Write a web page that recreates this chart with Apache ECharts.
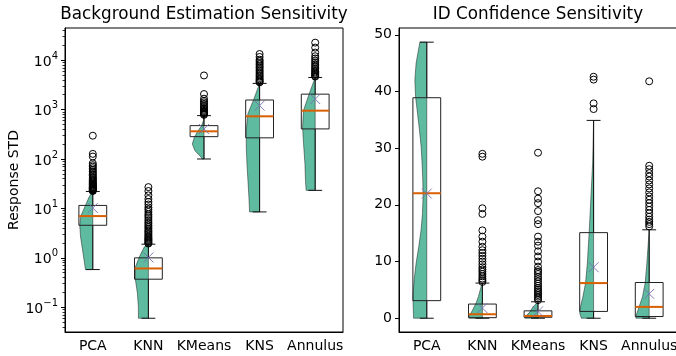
<!DOCTYPE html>
<html><head><meta charset="utf-8">
<script src="https://cdn.jsdelivr.net/npm/echarts@6/dist/echarts.min.js"></script>
<style>html,body{margin:0;padding:0;background:#fff}#c{width:676px;height:356px}</style>
</head><body><div id="c"></div>
<script>
const categories = ['PCA', 'KNN', 'KMeans', 'KNS', 'Annulus'];

// ---- Background Estimation Sensitivity (log scale) ----
const bgLow    = [0.58, 0.06, 100, 8.5, 23.2];
const bgQ1     = [4.56, 0.37, 283, 268, 406];
const bgMedian = [7.0, 0.61, 363, 730, 950];
const bgQ3     = [11.5, 1.0, 473, 1560, 2050];
const bgHigh   = [22, 1.89, 754, 3380, 4460];
const bgMean   = [10.2, 1.02, 405, 1200, 1630];
const bgOutliers = [
  [296, 127, 112, 82, 75, 70, 65, 60, 56, 52, 49, 46, 43, 41, 39, 37, 35, 33.5, 32, 31, 30, 29, 28, 27, 26.5, 26, 25.5, 25, 24.5, 24, 23.5, 23, 22.5],
  [27, 22.5, 18.4, 15.5, 13.5, 12, 10.5, 9.5, 8.5, 7.6, 7, 6.4, 5.8, 5.3, 4.9, 4.5, 4.2, 3.9, 3.6, 3.4, 3.2, 3.0, 2.8, 2.65, 2.5, 2.4, 2.3, 2.2, 2.1, 2.0, 1.95],
  [4900, 2060, 1660, 1500, 1400, 1300, 1200, 1120, 1050, 990, 940, 900, 870, 840, 810, 780],
  [13300, 11600, 10200, 9500, 8800, 8200, 7600, 7100, 6600, 6100, 5700, 5300, 4950, 4650, 4350, 4100, 3900, 3700, 3550],
  [22600, 17900, 14200, 12000, 10800, 9800, 9000, 8300, 7700, 7200, 6700, 6300, 5900, 5600, 5300, 5050, 4800, 4650]
];
// half-violin profiles: [value, relative half-width]
const bgViolins = [
  [[0.58,0.53],[1.23,0.70],[2.65,0.88],[4.56,0.94],[7.0,0.86],[11.5,0.53],[17,0.27],[22,0]],
  [[0.06,0.72],[0.10,0.72],[0.19,0.79],[0.355,0.93],[0.66,0.93],[1.05,0.65],[1.67,0.29],[1.89,0]],
  [[100,0.12],[110,0.22],[147,0.65],[200,0.84],[274,0.70],[363,0.45],[473,0.17],[600,0.04],[754,0]],
  [[8.5,0.72],[17,0.77],[37,0.84],[81,0.91],[174,0.96],[380,0.96],[830,0.84],[1580,0.43],[3380,0]],
  [[23.2,0.65],[37,0.70],[81,0.74],[208,0.84],[445,0.91],[960,0.84],[2100,0.43],[4460,0]]
];
const bgMajorTicks = [-1, 0, 1, 2, 3, 4];

// ---- ID Confidence Sensitivity (linear) ----
const idLow    = [0, 0, 0, 0, 0];
const idQ1     = [3.1, 0.1, 0.17, 1.2, 0.3];
const idMedian = [22.05, 0.7, 0.4, 6.2, 2.0];
const idQ3     = [38.9, 2.5, 1.3, 15.1, 6.3];
const idHigh   = [48.7, 6.2, 2.9, 34.9, 15.6];
const idMean   = [22.0, 1.8, 1.2, 9.0, 4.3];
const idOutliers = [
  [],
  [29.0, 28.5, 19.4, 18.4, 15.5, 14.4, 13.5, 12.6, 12.0, 11.5, 11.0, 10.5, 10.0, 9.5, 9.0, 8.6, 8.2, 7.8, 7.4, 7.0, 6.7, 6.4],
  [29.2, 22.4, 21.1, 20.3, 18.9, 17.3, 16.6, 14.4, 13.5, 12.8, 11.8, 10.9, 10.0, 9.1, 8.5, 8.2, 7.8, 7.3, 6.9, 6.5, 6.1, 5.7, 5.3, 5.0, 4.7, 4.4, 4.1, 3.8, 3.5, 3.2],
  [42.6, 42.1, 37.9, 36.9],
  [41.8, 26.9, 26.3, 25.6, 25.0, 24.3, 23.6, 22.9, 22.2, 21.5, 20.9, 20.3, 19.7, 19.1, 18.5, 17.9, 17.4, 17.0, 16.6, 16.2]
];
const idViolins = [
  [[0,0.95],[2.05,0.98],[3.8,1.0],[6.8,0.91],[9.7,0.77],[12.6,0.58],[15.6,0.41],[18.5,0.31],[21.5,0.27],[24.4,0.29],[27.4,0.34],[30.3,0.41],[33.2,0.53],[36.2,0.67],[39.1,0.81],[42,0.86],[45,0.77],[48.7,0.5]],
  [[0,0.95],[0.3,0.95],[2.05,0.58],[2.7,0.45],[3.8,0.29],[5.6,0.09],[6.2,0]],
  [[0,0.95],[0.3,0.93],[0.9,0.65],[2.05,0.34],[2.9,0]],
  [[0,0.88],[0.9,1.0],[2.05,0.94],[3.8,0.77],[6.2,0.58],[9.7,0.45],[15.6,0.31],[21.5,0.19],[27.4,0.07],[34.9,0]],
  [[0,0.96],[0.3,0.96],[0.9,0.88],[2.05,0.72],[3.8,0.48],[6.2,0.29],[9.7,0.17],[15.6,0]]
];
const idTicks = [0, 10, 20, 30, 40, 50];

const FONT = 'DejaVu Sans';
const log10 = v => Math.log10(v);
const lin = v => v;

const bgMinorTicks = [];
for (let n = -2; n <= 4; n++) for (let k = 2; k <= 9; k++) {
  const t = Math.log10(k * Math.pow(10, n));
  if (t > -1.5 && t < 4.65) bgMinorTicks.push(t);
}

function makeRender(tf, low, q1, med, q3, high, mean, violins) {
  return function (params, api) {
    const i = params.dataIndex;
    const band = api.size([1, 0])[0];
    const hw = band * 0.25, cap = band * 0.125;
    const cx = api.coord([i, tf(med[i])])[0];
    const Y = v => api.coord([i, tf(v)])[1];
    const prof = violins[i];
    const pts = prof.map(p => [cx - p[1] * hw, Y(p[0])]);
    prof.slice().reverse().forEach(p => pts.push([cx, Y(p[0])]));
    const black = '#111';
    const line = (x1, y1, x2, y2, color, w) => ({
      type: 'line', shape: {x1, y1, x2, y2}, style: {stroke: color, lineWidth: w}
    });
    const yQ1 = Y(q1[i]), yQ3 = Y(q3[i]), yM = Y(mean[i]);
    const xm = api.coord([i, tf(mean[i])])[0];
    const children = [
      {type: 'polygon', shape: {points: pts}, style: {fill: 'rgba(27,158,119,0.7)', stroke: 'rgba(0,0,0,0.55)', lineWidth: 0.8}},
      line(cx, yQ3, cx, Y(high[i]), black, 1),
      line(cx, yQ1, cx, Y(low[i]), black, 1),
      line(cx - cap, Y(high[i]), cx + cap, Y(high[i]), black, 1),
      line(cx - cap, Y(low[i]), cx + cap, Y(low[i]), black, 1),
      {type: 'rect', shape: {x: cx - hw, y: yQ3, width: 2 * hw, height: yQ1 - yQ3}, style: {fill: 'none', stroke: '#222', lineWidth: 1}},
      line(cx - hw, Y(med[i]), cx + hw, Y(med[i]), '#d95f02', 2),
      line(xm - 5, yM - 5, xm + 5, yM + 5, 'rgba(117,112,179,0.9)', 1),
      line(xm - 5, yM + 5, xm + 5, yM - 5, 'rgba(117,112,179,0.9)', 1)
    ];
    return {type: 'group', children};
  };
}

function outlierData(tf, outs) {
  const d = [];
  outs.forEach((arr, i) => arr.forEach(v => d.push([i, tf(v)])));
  return d;
}

const xAxisBase = (gi) => ({
  type: 'category', gridIndex: gi, data: categories, boundaryGap: true,
  axisLine: {onZero: false, lineStyle: {color: '#000', width: 1}},
  axisTick: {alignWithLabel: true, length: 4, lineStyle: {color: '#000'}},
  axisLabel: {interval: 0, hideOverlap: false, color: '#000', fontSize: 14, fontFamily: FONT, margin: 7},
  splitLine: {show: false}
});

const option = {
  animation: false,
  backgroundColor: '#fff',
  title: [
    {text: 'Background Estimation Sensitivity', left: 204, top: 6, textAlign: 'center', padding: 0,
     textStyle: {fontSize: 16.8, fontWeight: 'normal', color: '#000', fontFamily: FONT}},
    {text: 'ID Confidence Sensitivity', left: 538, top: 6, textAlign: 'center', padding: 0,
     textStyle: {fontSize: 16.8, fontWeight: 'normal', color: '#000', fontFamily: FONT}}
  ],
  grid: [
    {left: 65, top: 28, width: 278, height: 304, show: true, borderColor: '#000', borderWidth: 1, outerBoundsMode: 'none', containLabel: false},
    {left: 399, top: 28, width: 278, height: 304, show: true, borderColor: '#000', borderWidth: 1, outerBoundsMode: 'none', containLabel: false}
  ],
  xAxis: [xAxisBase(0), xAxisBase(1)],
  yAxis: [
    {type: 'value', gridIndex: 0, min: -1.5, max: 4.65, position: 'left',
     name: 'Response STD', nameLocation: 'middle', nameGap: 44,
     nameTextStyle: {fontSize: 14, color: '#000', fontFamily: FONT},
     axisLine: {show: true, onZero: false, lineStyle: {color: '#000'}},
     axisTick: {show: true, length: 4, customValues: bgMajorTicks, lineStyle: {color: '#000'}},
     axisLabel: {customValues: bgMajorTicks, margin: 7, color: '#000', fontFamily: FONT,
       formatter: v => { const n = Math.round(v); return '{b|10}{s|' + (n < 0 ? '\u2212' + (-n) : n) + '}'; },
       rich: {b: {fontSize: 14, lineHeight: 18, verticalAlign: 'bottom', fontFamily: FONT, color: '#000'},
              s: {fontSize: 10, lineHeight: 10, verticalAlign: 'top', fontFamily: FONT, color: '#000'}}},
     splitLine: {show: false}},
    {type: 'value', gridIndex: 0, min: -1.5, max: 4.65, position: 'left',
     axisLine: {show: false, onZero: false}, axisLabel: {show: false}, splitLine: {show: false},
     axisTick: {show: true, length: 2.5, customValues: bgMinorTicks, lineStyle: {color: '#000', width: 0.8}}},
    {type: 'value', gridIndex: 1, min: -2.43, max: 51.2, position: 'left',
     axisLine: {show: true, onZero: false, lineStyle: {color: '#000'}},
     axisTick: {show: true, length: 4, customValues: idTicks, lineStyle: {color: '#000'}},
     axisLabel: {customValues: idTicks, margin: 7, color: '#000', fontSize: 14, fontFamily: FONT},
     splitLine: {show: false}}
  ],
  series: [
    {type: 'custom', xAxisIndex: 0, yAxisIndex: 0, z: 2,
     data: categories.map((c, i) => [i, log10(bgMedian[i])]), encode: {x: 0, y: 1},
     renderItem: makeRender(log10, bgLow, bgQ1, bgMedian, bgQ3, bgHigh, bgMean, bgViolins)},
    {type: 'scatter', xAxisIndex: 0, yAxisIndex: 0, z: 3, silent: true,
     data: outlierData(log10, bgOutliers), symbol: 'circle', symbolSize: 7,
     itemStyle: {color: 'rgba(0,0,0,0)', borderColor: '#000', borderWidth: 1, opacity: 1}},
    {type: 'scatter', xAxisIndex: 0, yAxisIndex: 1, silent: true, data: [], symbolSize: 0},
    {type: 'custom', xAxisIndex: 1, yAxisIndex: 2, z: 2,
     data: categories.map((c, i) => [i, idMedian[i]]), encode: {x: 0, y: 1},
     renderItem: makeRender(lin, idLow, idQ1, idMedian, idQ3, idHigh, idMean, idViolins)},
    {type: 'scatter', xAxisIndex: 1, yAxisIndex: 2, z: 3, silent: true,
     data: outlierData(lin, idOutliers), symbol: 'circle', symbolSize: 7,
     itemStyle: {color: 'rgba(0,0,0,0)', borderColor: '#000', borderWidth: 1, opacity: 1}}
  ]
};

const chart = echarts.init(document.getElementById('c'), null, {renderer: 'canvas'});
chart.setOption(option);
</script>
</body></html>
